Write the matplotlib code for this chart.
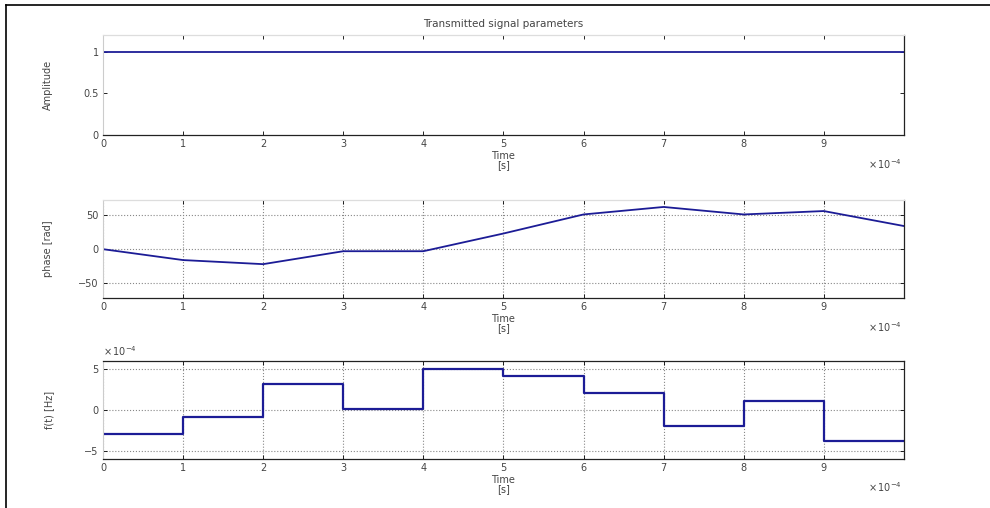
import matplotlib.pyplot as plt
from matplotlib.lines import Line2D

# time in units of 1e-4 s
t_nodes = [0, 1, 2, 3, 4, 5, 6, 7, 8, 9, 10]
amplitude = [1, 1, 1, 1, 1, 1, 1, 1, 1, 1, 1]
phase = [0, -16, -22, -3, -3, 23, 51, 62, 51, 56, 34]
freq = [-2.9, -0.9, 3.2, 0.1, 5.0, 4.1, 2.1, -2.0, 1.1, -3.8]  # x 1e-4

blue = "#1c1c96"
txt = "#444444"

fig = plt.figure(figsize=(9.9, 5.08), dpi=100)

left, width = 0.104, 0.809
ax1 = fig.add_axes([left, 0.734, width, 0.197])
ax2 = fig.add_axes([left, 0.413, width, 0.193])
ax3 = fig.add_axes([left, 0.0965, width, 0.193])

ax1.plot(t_nodes, amplitude, color=blue, lw=1.3)
ax1.set_ylim(0, 1.2)
ax1.set_yticks([0, 0.5, 1])
ax1.set_yticklabels(["0", "0.5", "1"])
ax1.set_ylabel("Amplitude", fontsize=7, color=txt, labelpad=22)
ax1.set_title("Transmitted signal parameters", fontsize=7.5, color=txt, pad=6)

ax2.plot(t_nodes, phase, color=blue, lw=1.3)
ax2.set_ylim(-72, 72)
ax2.set_yticks([-50, 0, 50])
ax2.set_ylabel("phase [rad]", fontsize=7, color=txt, labelpad=18)
ax2.grid(True, linestyle=":", color="#888888", lw=0.8)

# step signal for the frequency
ax3.step(t_nodes, freq + [freq[-1]], where="post", color=blue, lw=1.6)
ax3.set_ylim(-6, 6)
ax3.set_yticks([-5, 0, 5])
ax3.set_ylabel("f(t) [Hz]", fontsize=7, color=txt, labelpad=22)
ax3.grid(True, linestyle=":", color="#888888", lw=0.8)
ax3.text(0.0, 1.03, r"$\times\,10^{-4}$", transform=ax3.transAxes,
         fontsize=7, color=txt, ha="left", va="bottom")

for ax in (ax1, ax2, ax3):
    ax.set_xlim(0, 10)
    ax.set_xticks(range(10))
    ax.tick_params(direction="in", top=True, right=True, labelsize=7,
                   labelcolor=txt, length=3, width=0.6, pad=3)
    ax.set_xlabel("Time\n[s]", fontsize=7, color=txt, labelpad=1, linespacing=0.9)
    for side in ("top", "right", "bottom"):
        ax.spines[side].set_color("#222222")
        ax.spines[side].set_linewidth(0.9)
    ax.spines["left"].set_color("#cccccc")
    ax.text(0.955, -0.22, r"$\times\,10^{-4}$", transform=ax.transAxes,
            fontsize=7, color=txt, ha="left", va="top")

# upper panels show a faint top edge
ax1.spines["top"].set_color("#dddddd")
ax2.spines["top"].set_color("#dddddd")

# outer frame (top and left edges)
fig.add_artist(Line2D([6 / 990, 1.0], [1 - 5 / 508, 1 - 5 / 508], color="black", lw=1.2))
fig.add_artist(Line2D([6 / 990, 6 / 990], [0, 1 - 5 / 508], color="black", lw=1.2))

fig.savefig("out.png", dpi=100)
